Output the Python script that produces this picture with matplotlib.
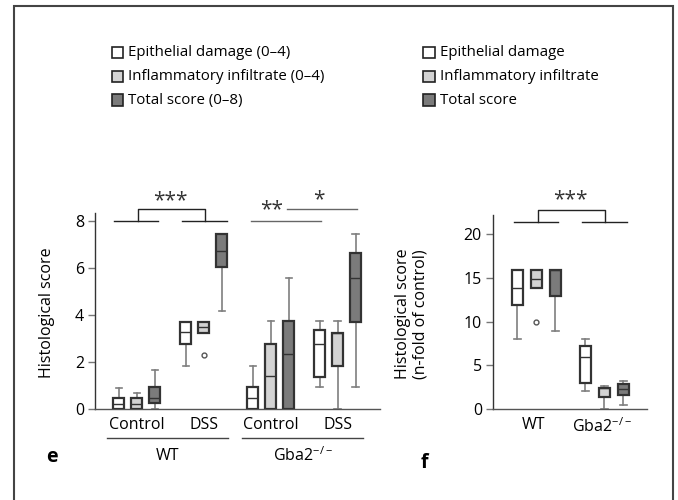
import matplotlib
matplotlib.use("Agg")
import matplotlib.pyplot as plt
from matplotlib.patches import Rectangle

plt.rcParams['font.family'] = ['Open Sans', 'DejaVu Sans']
plt.rcParams['mathtext.fontset'] = 'custom'
plt.rcParams['mathtext.rm'] = 'Open Sans'
plt.rcParams['mathtext.it'] = 'Open Sans:italic'
plt.rcParams['mathtext.bf'] = 'Open Sans:bold'

# ---------------- data ----------------
series_e = ["Epithelial damage (0–4)", "Inflammatory infiltrate (0–4)", "Total score (0–8)"]
series_f = ["Epithelial damage", "Inflammatory infiltrate", "Total score"]
groups_e = ["Control", "DSS", "Control", "DSS"]
genotypes = ["WT", "Gba2$^{\\mathrm{-/-}}$"]

# panel e: order WT-Control, WT-DSS, Gba2-Control, Gba2-DSS ; each Epi, Infl, Total
e_whislo = [0.00, 0.00, 0.00, 1.85, 3.25, 4.16, 0.00, 0.00, 0.00, 0.94, 0.00, 0.94]
e_q1     = [0.00, 0.00, 0.27, 2.79, 3.25, 6.04, 0.00, 0.00, 0.00, 1.38, 1.84, 3.72]
e_med    = [0.23, 0.23, 0.47, 3.28, 3.49, 6.75, 0.46, 1.40, 2.34, 2.79, 3.25, 5.57]
e_q3     = [0.47, 0.47, 0.93, 3.72, 3.72, 7.44, 0.94, 2.79, 3.73, 3.38, 3.25, 6.65]
e_whishi = [0.91, 0.70, 1.67, 3.72, 3.72, 7.44, 1.85, 3.73, 5.57, 3.73, 3.73, 7.44]
e_fliers = [[], [], [], [], [2.32], [], [], [], [], [], [], []]

# panel f: WT (Epi, Infl, Total), Gba2 (Epi, Infl, Total)
f_whislo = [7.98, 13.9, 8.97, 2.02, 0.00, 0.46]
f_q1     = [11.9, 13.9, 12.9, 3.00, 1.37, 1.64]
f_med    = [13.9, 14.9, 15.9, 5.99, 2.40, 2.25]
f_q3     = [15.9, 15.9, 15.9, 7.20, 2.40, 2.90]
f_whishi = [15.9, 15.9, 15.9, 7.98, 2.67, 3.24]
f_fliers = [[], [9.96], [], [], [], []]

colors = ["#ffffff", "#d3d3d3", "#7b7b7b"]
edge = "#333333"
whisk = "#7f7f7f"
FS = 11.5

W, H = 678, 500
fig = plt.figure(figsize=(W / 100, H / 100), dpi=100)

def fx(px):
    return px / W

def fy(py):
    return 1 - py / H

# outer frame
fig.patches.append(Rectangle((fx(13.5), -0.05), fx(673) - fx(13.5), fy(5.5) + 0.05,
                             transform=fig.transFigure, fill=False,
                             edgecolor="#444444", lw=1.5, zorder=0))

def make_stats(wl, q1, med, q3, wh, fl):
    return [dict(whislo=a, q1=b, med=c, q3=d, whishi=e, fliers=f)
            for a, b, c, d, e, f in zip(wl, q1, med, q3, wh, fl)]

def draw_boxes(ax, stats, positions, width, capw):
    bp = ax.bxp(stats, positions=positions, widths=width, patch_artist=True,
                showfliers=True, capwidths=capw,
                boxprops=dict(edgecolor=edge, linewidth=1.6),
                medianprops=dict(color=edge, linewidth=1.0),
                whiskerprops=dict(color=whisk, linewidth=1.2),
                capprops=dict(color=whisk, linewidth=1.2),
                flierprops=dict(marker='o', markersize=3.5, markerfacecolor='white',
                                markeredgecolor='#555555', markeredgewidth=1.0))
    for i, b in enumerate(bp['boxes']):
        b.set_facecolor(colors[i % 3])
        b.set_zorder(3)
    for art in bp['medians']:
        art.set_zorder(4)
    return bp

def style_axis(ax):
    for s in ['top', 'right']:
        ax.spines[s].set_visible(False)
    ax.spines['left'].set_color("#333333")
    ax.spines['bottom'].set_color("#555555")
    ax.spines['left'].set_linewidth(1.0)
    ax.spines['bottom'].set_linewidth(1.0)
    ax.tick_params(axis='y', direction='out', length=5, width=1, color="#777777",
                   labelsize=FS, pad=3)
    ax.tick_params(axis='x', length=0, labelsize=FS, pad=6)

# ---------------- panel e ----------------
axe = fig.add_axes([fx(95), fy(409), fx(380) - fx(95), fy(213) - fy(409)])
gap_e = 3.72
pos_e = [g * gap_e + k for g in range(4) for k in range(3)]
draw_boxes(axe, make_stats(e_whislo, e_q1, e_med, e_q3, e_whishi, e_fliers),
           pos_e, 0.61, 0.34)
axe.set_xlim(-1.317, 14.52)
axe.set_ylim(0, 8.35)
axe.set_yticks([0, 2, 4, 6, 8])
axe.set_xticks([g * gap_e + 1 for g in range(4)])
axe.set_xticklabels(groups_e)
style_axis(axe)
axe.set_ylabel("Histological score", fontsize=FS)
axe.yaxis.set_label_coords(-0.14, 0.49)

# genotype underlines and labels
for (x0, x1), lab in zip([(-0.63, 6.06), (6.87, 13.56)], genotypes):
    axe.plot([x0, x1], [-0.148 * 8.35] * 2, color="#444444", lw=1.0, clip_on=False)
    axe.text((x0 + x1) / 2, -0.24 * 8.35, lab, ha='center', va='center', fontsize=FS)

# significance
kw = dict(color="#222222", lw=1.0, clip_on=False)
axe.plot([-0.26, 2.2], [8.0, 8.0], **kw)
axe.plot([3.53, 6.0], [8.0, 8.0], **kw)
axe.plot([1.09, 1.09, 4.79, 4.79], [8.0, 8.5, 8.5, 8.0], **kw)
axe.text(2.85, 8.42, "***", ha='center', va='bottom', fontsize=15, color="#333333")
kw2 = dict(color="#666666", lw=1.0, clip_on=False)
axe.plot([7.33, 11.22], [8.0, 8.0], **kw2)
axe.plot([9.33, 13.22], [8.5, 8.5], **kw2)
axe.text(8.5, 8.06, "**", ha='center', va='bottom', fontsize=15, color="#333333")
axe.text(11.14, 8.46, "*", ha='center', va='bottom', fontsize=15, color="#333333")

# ---------------- panel f ----------------
axf = fig.add_axes([fx(493), fy(409), fx(647) - fx(493), fy(215) - fy(409)])
gap_f = 3.58
pos_f = [g * gap_f + k for g in range(2) for k in range(3)]
draw_boxes(axf, make_stats(f_whislo, f_q1, f_med, f_q3, f_whishi, f_fliers),
           pos_f, 0.58, 0.33)
axf.set_xlim(-1.29, 6.82)
axf.set_ylim(0, 22.2)
axf.set_yticks([0, 5, 10, 15, 20])
axf.set_xticks([g * gap_f + 0.85 for g in range(2)])
axf.set_xticklabels(genotypes)
style_axis(axf)
axf.set_ylabel("Histological score\n(n-fold of control)", fontsize=FS, linespacing=1.1)
axf.yaxis.set_label_coords(-0.42, 0.49)

axf.plot([-0.18, 2.15], [21.44, 21.44], **kw)
axf.plot([3.41, 5.75], [21.44, 21.44], **kw)
axf.plot([1.06, 1.06, 4.61, 4.61], [21.44, 22.78, 22.78, 21.44], **kw)
axf.text(2.76, 22.75, "***", ha='center', va='bottom', fontsize=15, color="#333333")

# ---------------- legends ----------------
def legend(x_sq, x_txt, labels):
    for i, (lab, c) in enumerate(zip(labels, colors)):
        yc = [52.7, 76.7, 100.3][i]
        fig.patches.append(Rectangle((fx(x_sq), fy(yc + 5.5)), fx(11.5), 11.5 / H,
                                     transform=fig.transFigure, facecolor=c,
                                     edgecolor="#222222", lw=1.2))
        fig.text(fx(x_txt), fy(yc), lab, ha='left', va='center', fontsize=10.8)

legend(111.7, 128.5, series_e)
legend(423.5, 440.0, series_f)

# panel letters
fig.text(fx(46), fy(462), "e", fontsize=14, fontweight='bold', va='baseline')
fig.text(fx(421), fy(468), "f", fontsize=14, fontweight='bold', va='baseline')

fig.savefig("out.png", dpi=100)
